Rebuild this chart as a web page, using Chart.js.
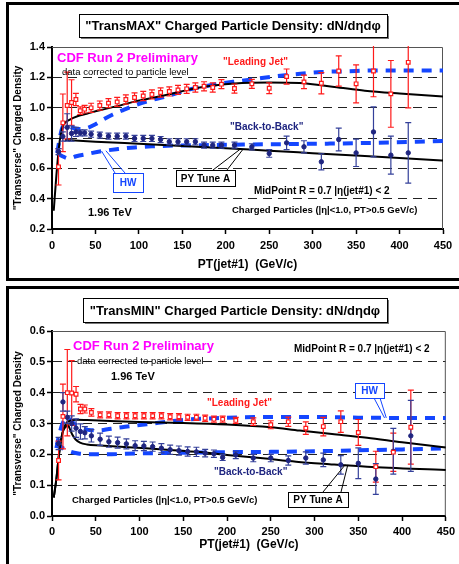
<!DOCTYPE html>
<html>
<head>
<meta charset="utf-8">
<script src="https://cdn.jsdelivr.net/npm/chart.js@4.4.0/dist/chart.umd.min.js"></script>
<style>
  body { margin: 0; background: #fff; width: 459px; height: 564px; overflow: hidden; position: relative; }
  canvas { position: absolute; left: 0; }
  #transMax { top: 0; }
  #transMin { top: 282px; }
  .frame { position: absolute; left: 6px; width: 470px; border: 3px solid #000; box-sizing: border-box; pointer-events: none; }
</style>
</head>
<body>
<canvas id="transMax" width="459" height="282"></canvas>
<canvas id="transMin" width="459" height="282"></canvas>
<div class="frame" style="top:2px;height:279px"></div>
<div class="frame" style="top:286px;height:300px"></div>
<script>
// PT(jet#1) bin centres (GeV/c), shared by both panels
const ptBins = [7.5, 12.5, 17.5, 22.5, 27.5, 32.5, 37.5, 45, 55, 65, 75, 85, 95, 105, 115, 125, 135, 145,
    155, 165, 175, 185, 195, 210, 230, 250, 270, 290, 310, 330, 350, 370, 390, 410];

// TransMAX - data
const maxLeadVals = [0.61, 0.90, 1.014, 1.034, 1.054, 0.98, 0.99, 0.999, 1.014, 1.03, 1.038, 1.054, 1.067, 1.077,
    1.087, 1.10, 1.107, 1.117, 1.124, 1.133, 1.141, 1.133, 1.155, 1.126, 1.157, 1.128, 1.205, 1.17, 1.161,
    1.242, 1.157, 1.242, 1.091, 1.299];
const maxLeadErrs = [0.12, 0.19, 0.22, 0.15, 0.04, 0.025, 0.025, 0.03, 0.03, 0.03, 0.03, 0.03, 0.03, 0.03, 0.03,
    0.03, 0.03, 0.03, 0.03, 0.03, 0.03, 0.03, 0.03, 0.03, 0.03, 0.035, 0.05, 0.045, 0.07, 0.1, 0.125, 0.17, 0.22, 0.3];
const maxBackVals = [0.71, 0.81, 0.87, 0.83, 0.84, 0.834, 0.834, 0.825, 0.819, 0.812, 0.812, 0.812, 0.797, 0.797,
    0.797, 0.79, 0.775, 0.775, 0.775, 0.775, 0.753, 0.753, 0.753, 0.753, 0.742, 0.698, 0.768, 0.742, 0.643,
    0.79, 0.702, 0.84, 0.687, 0.702];
const maxBackErrs = [0.02, 0.03, 0.09, 0.05, 0.03, 0.02, 0.02, 0.02, 0.02, 0.02, 0.02, 0.02, 0.02, 0.02, 0.02,
    0.02, 0.02, 0.02, 0.02, 0.02, 0.02, 0.02, 0.02, 0.02, 0.02, 0.025, 0.045, 0.04, 0.053, 0.075, 0.09, 0.165, 0.125, 0.2];

// TransMAX - PYTHIA Tune A and HERWIG curves
const maxPyLeadX = [2, 5, 8, 10, 12, 15, 20, 30, 40, 55, 75, 95, 130, 170, 210, 250, 285, 325, 360, 400, 450];
const maxPyLeadY = [0.32, 0.55, 0.74, 0.82, 0.87, 0.90, 0.92, 0.945, 0.96, 0.983, 1.01, 1.04, 1.082, 1.133, 1.159,
    1.166, 1.162, 1.137, 1.112, 1.093, 1.073];
const maxPyBackX = [15, 50, 100, 150, 200, 250, 300, 350, 400, 450];
const maxPyBackY = [0.786, 0.776, 0.762, 0.748, 0.733, 0.716, 0.70, 0.684, 0.668, 0.652];
const maxHwLeadX = [6, 9, 12, 16, 22, 30, 40, 50, 60, 70, 80, 95, 115, 135, 155, 175, 195, 215, 235, 255, 280,
    310, 340, 370, 410, 450];
const maxHwLeadY = [0.70, 0.80, 0.87, 0.885, 0.87, 0.86, 0.865, 0.89, 0.925, 0.955, 0.98, 1.015, 1.05, 1.08, 1.115,
    1.14, 1.16, 1.175, 1.19, 1.205, 1.22, 1.235, 1.24, 1.245, 1.245, 1.245];
const maxHwBackX = [6, 12, 19, 28, 40, 57, 76, 95, 115, 140, 175, 220, 270, 320, 370, 420, 450];
const maxHwBackY = [0.70, 0.68, 0.665, 0.68, 0.694, 0.713, 0.727, 0.738, 0.745, 0.75, 0.753, 0.757, 0.76, 0.763,
    0.768, 0.775, 0.78];

// TransMIN - data
const minLeadVals = [0.18, 0.323, 0.40, 0.399, 0.395, 0.347, 0.347, 0.336, 0.328, 0.328, 0.325, 0.325, 0.325, 0.325,
    0.325, 0.325, 0.322, 0.322, 0.32, 0.32, 0.317, 0.314, 0.314, 0.31, 0.306, 0.296, 0.306, 0.285, 0.29, 0.306,
    0.271, 0.16, 0.207, 0.288];
const minLeadErrs = [0.063, 0.105, 0.14, 0.105, 0.025, 0.015, 0.013, 0.012, 0.01, 0.01, 0.01, 0.01, 0.01, 0.01, 0.01,
    0.01, 0.01, 0.01, 0.01, 0.01, 0.01, 0.01, 0.01, 0.01, 0.012, 0.013, 0.015, 0.02, 0.03, 0.035, 0.042, 0.05, 0.062, 0.12];
const minBackVals = [0.235, 0.37, 0.32, 0.30, 0.285, 0.274, 0.27, 0.26, 0.249, 0.241, 0.238, 0.234, 0.228, 0.227,
    0.225, 0.22, 0.215, 0.212, 0.209, 0.208, 0.204, 0.202, 0.19, 0.198, 0.188, 0.188, 0.18, 0.188, 0.182, 0.166,
    0.171, 0.12, 0.21, 0.26];
const minBackErrs = [0.02, 0.03, 0.02, 0.025, 0.03, 0.025, 0.02, 0.02, 0.02, 0.018, 0.018, 0.016, 0.016, 0.015, 0.015,
    0.015, 0.015, 0.015, 0.015, 0.015, 0.012, 0.012, 0.01, 0.012, 0.012, 0.012, 0.015, 0.02, 0.022, 0.03, 0.05,
    0.05, 0.074, 0.115];

// TransMIN - PYTHIA Tune A and HERWIG curves
const minPyLeadX = [2, 5, 8, 12, 16, 20, 28, 40, 60, 100, 150, 200, 250, 283, 320, 360, 400, 450];
const minPyLeadY = [0.06, 0.12, 0.2, 0.27, 0.3, 0.308, 0.312, 0.311, 0.309, 0.305, 0.302, 0.297, 0.288, 0.277,
    0.266, 0.254, 0.239, 0.222];
const minPyBackX = [2, 5, 8, 12, 16, 18, 20, 23, 27, 32, 40, 55, 92, 127, 165, 203, 241, 279, 317, 360, 450];
const minPyBackY = [0.06, 0.12, 0.2, 0.27, 0.29, 0.296, 0.285, 0.265, 0.248, 0.238, 0.232, 0.229, 0.222, 0.216,
    0.208, 0.197, 0.187, 0.176, 0.168, 0.16, 0.149];
const minHwLeadX = [5, 8, 12, 18, 25, 35, 45, 55, 65, 80, 95, 115, 135, 155, 175, 200, 250, 300, 350, 400, 450];
const minHwLeadY = [0.22, 0.26, 0.30, 0.32, 0.30, 0.285, 0.278, 0.278, 0.282, 0.288, 0.293, 0.30, 0.307, 0.313,
    0.316, 0.319, 0.321, 0.321, 0.319, 0.318, 0.318];
const minHwBackX = [5, 10, 20, 30, 45, 60, 100, 150, 200, 250, 300, 350, 400, 450];
const minHwBackY = [0.24, 0.225, 0.21, 0.203, 0.2, 0.2, 0.203, 0.205, 0.207, 0.208, 0.21, 0.213, 0.216, 0.219];

const FONT = 'Arial, "Liberation Sans", Helvetica, sans-serif';
const RED = '#ff1a1a';
const NAVY = '#1f2580';
const NAVY_BAR = '#34409a';
const HW_BLUE = '#1446ff';
const MAGENTA = '#ff00ff';

Chart.defaults.font.family = FONT;

function toXY(xs, ys) {
    return xs.map((x, i) => ({ x: x, y: ys[i] }));
}

// error bars drawn after the curves, before the markers
const errorBarsPlugin = {
    id: 'errorBars',
    beforeDatasetDraw(chart, args, opts) {
        if (args.index !== 1) return;
        const { ctx, chartArea: a, scales: { x, y } } = chart;
        ctx.save();
        ctx.beginPath();
        ctx.rect(a.left, a.top - 1, a.width, a.height + 2);
        ctx.clip();
        opts.sets.forEach(set => {
            ctx.strokeStyle = set.color;
            ctx.lineWidth = 1.2;
            set.vals.forEach((v, i) => {
                const px = x.getPixelForValue(ptBins[i]);
                const top = y.getPixelForValue(v + set.errs[i]);
                const bot = y.getPixelForValue(v - set.errs[i]);
                ctx.beginPath();
                ctx.moveTo(px, top); ctx.lineTo(px, bot);
                ctx.moveTo(px - 3, top); ctx.lineTo(px + 3, top);
                ctx.moveTo(px - 3, bot); ctx.lineTo(px + 3, bot);
                ctx.stroke();
            });
        });
        ctx.restore();
    }
};

function drawBox(ctx, b, stroke, shadow) {
    const [x1, y1, x2, y2] = b;
    if (shadow) {
        ctx.fillStyle = '#777';
        ctx.fillRect(x1 + 2, y1 + 2, x2 - x1, y2 - y1);
    }
    ctx.fillStyle = '#fff';
    ctx.fillRect(x1, y1, x2 - x1, y2 - y1);
    ctx.strokeStyle = stroke;
    ctx.lineWidth = 1;
    ctx.strokeRect(x1 + 0.5, y1 + 0.5, x2 - x1, y2 - y1);
}

// frame, title box, labels and callouts
const notesPlugin = {
    id: 'notes',
    beforeDatasetsDraw(chart) {
        const { ctx, chartArea: a } = chart;
        ctx.save();
        ctx.strokeStyle = '#555';
        ctx.lineWidth = 1;
        ctx.beginPath();
        ctx.moveTo(a.left, a.top + 0.5);
        ctx.lineTo(a.right - 0.5, a.top + 0.5);
        ctx.lineTo(a.right - 0.5, a.bottom);
        ctx.stroke();
        ctx.restore();
    },
    afterDraw(chart, args, opts) {
        const { ctx, scales: { x, y } } = chart;
        ctx.save();
        ctx.textBaseline = 'middle';

        // callouts first, box on top of the leader lines
        opts.callouts.forEach(c => {
            ctx.strokeStyle = c.color;
            ctx.lineWidth = 1;
            c.from.forEach((f, i) => {
                ctx.beginPath();
                ctx.moveTo(f[0], f[1]);
                ctx.lineTo(x.getPixelForValue(c.to[i][0]), y.getPixelForValue(c.to[i][1]));
                ctx.stroke();
            });
            drawBox(ctx, c.box, c.color, false);
            ctx.fillStyle = c.color;
            ctx.font = 'bold 10px ' + FONT;
            ctx.textAlign = 'center';
            ctx.fillText(c.text, (c.box[0] + c.box[2]) / 2, (c.box[1] + c.box[3]) / 2 + 1);
        });

        drawBox(ctx, opts.title.box, '#000', true);
        ctx.fillStyle = '#000';
        ctx.font = 'bold 13px ' + FONT;
        ctx.textAlign = 'center';
        ctx.fillText(opts.title.text, (opts.title.box[0] + opts.title.box[2]) / 2, (opts.title.box[1] + opts.title.box[3]) / 2 + 1);

        opts.texts.forEach(t => {
            ctx.fillStyle = t.color || '#000';
            ctx.font = t.font + ' ' + FONT;
            ctx.textAlign = 'left';
            ctx.fillText(t.text, t.x, t.y);
        });
        ctx.restore();
    }
};

function makePanel(canvasId, p) {
    const ctx = document.getElementById(canvasId).getContext('2d');
    const tickFont = { family: FONT, size: 11, weight: 'bold' };
    return new Chart(ctx, {
        type: 'scatter',
        data: {
            datasets: [{
                label: 'Leading Jet',
                data: toXY(ptBins, p.leadVals),
                pointStyle: 'rect',
                pointRadius: 2.6,
                borderColor: RED,
                backgroundColor: '#fff',
                borderWidth: 1.2
            }, {
                label: 'Back-to-Back',
                data: toXY(ptBins, p.backVals),
                pointStyle: 'circle',
                pointRadius: 2.2,
                borderColor: NAVY,
                backgroundColor: NAVY,
                borderWidth: 1
            }, {
                label: 'PY Tune A (leading)',
                data: toXY(p.pyLeadX, p.pyLeadY),
                showLine: true, pointRadius: 0,
                borderColor: '#000', borderWidth: 2,
                cubicInterpolationMode: 'monotone'
            }, {
                label: 'PY Tune A (back)',
                data: toXY(p.pyBackX, p.pyBackY),
                showLine: true, pointRadius: 0,
                borderColor: '#000', borderWidth: 2,
                cubicInterpolationMode: 'monotone'
            }, {
                label: 'HW (leading)',
                data: toXY(p.hwLeadX, p.hwLeadY),
                showLine: true, pointRadius: 0,
                borderColor: HW_BLUE, borderWidth: 4, borderDash: [10, 8],
                cubicInterpolationMode: 'monotone'
            }, {
                label: 'HW (back)',
                data: toXY(p.hwBackX, p.hwBackY),
                showLine: true, pointRadius: 0,
                borderColor: HW_BLUE, borderWidth: 4, borderDash: [10, 8],
                cubicInterpolationMode: 'monotone'
            }]
        },
        options: {
            responsive: false,
            animation: false,
            devicePixelRatio: 1,
            layout: { padding: { left: 0, top: p.padTop, right: p.padRight, bottom: 0 } },
            plugins: {
                legend: { display: false },
                tooltip: { enabled: false },
                errorBars: {
                    sets: [
                        { vals: p.leadVals, errs: p.leadErrs, color: RED },
                        { vals: p.backVals, errs: p.backErrs, color: NAVY_BAR }
                    ]
                },
                notes: p.notes
            },
            scales: {
                x: {
                    type: 'linear', min: 0, max: 450,
                    ticks: { stepSize: 50, maxRotation: 0, autoSkip: false, color: '#000', font: tickFont, padding: p.xTickPad },
                    grid: { drawOnChartArea: false, tickLength: 5, tickColor: '#000', tickWidth: 1.5 },
                    border: { color: '#000', width: 2 },
                    title: {
                        display: true, text: 'PT(jet#1)  (GeV/c)', color: '#000',
                        font: { family: FONT, size: 12, weight: 'bold' },
                        padding: { top: 0, bottom: p.xTitlePad }
                    },
                    afterFit: s => { s.height = p.xHeight; }
                },
                y: {
                    min: p.yMin, max: p.yMax,
                    ticks: {
                        stepSize: p.yStep, color: '#000', font: tickFont, padding: 2,
                        callback: v => v.toFixed(1)
                    },
                    grid: {
                        color: c => (c.tick && c.tick.value > p.yMin + 1e-6 && c.tick.value < p.yMax - 1e-6) ? '#222' : 'rgba(0,0,0,0)',
                        lineWidth: 1, tickLength: 5, tickColor: '#000', tickWidth: 1.5
                    },
                    border: { color: '#000', width: 2, dash: [9, 6] },
                    title: {
                        display: true, text: '"Transverse" Charged Density', color: '#000',
                        font: { family: FONT, size: 10, weight: 'bold' },
                        padding: { top: 12, bottom: 0 }
                    },
                    afterFit: s => { s.width = 52; }
                }
            }
        },
        plugins: [errorBarsPlugin, notesPlugin]
    });
}

window.maxChart = makePanel('transMax', {
    leadVals: maxLeadVals, leadErrs: maxLeadErrs, backVals: maxBackVals, backErrs: maxBackErrs,
    pyLeadX: maxPyLeadX, pyLeadY: maxPyLeadY, pyBackX: maxPyBackX, pyBackY: maxPyBackY,
    hwLeadX: maxHwLeadX, hwLeadY: maxHwLeadY, hwBackX: maxHwBackX, hwBackY: maxHwBackY,
    yMin: 0.2, yMax: 1.4, yStep: 0.2,
    padTop: 47, padRight: 16, xHeight: 53, xTickPad: 5, xTitlePad: 10,
    notes: {
        title: { text: '"TransMAX" Charged Particle Density: dN/dηdφ', box: [79, 14, 387, 37] },
        texts: [
            { text: 'CDF Run 2 Preliminary', x: 57, y: 58, font: 'bold 13px', color: MAGENTA },
            { text: 'data corrected to particle level', x: 62, y: 72, font: '9.5px' },
            { text: '"Leading Jet"', x: 223, y: 62, font: 'bold 10px', color: RED },
            { text: '"Back-to-Back"', x: 230, y: 127, font: 'bold 10px', color: NAVY },
            { text: 'MidPoint R = 0.7 |η(jet#1) < 2', x: 254, y: 191, font: 'bold 10px' },
            { text: 'Charged Particles (|η|<1.0, PT>0.5 GeV/c)', x: 232, y: 210, font: 'bold 9.5px' },
            { text: '1.96 TeV', x: 88, y: 213, font: 'bold 11px' }
        ],
        callouts: [
            { text: 'HW', color: HW_BLUE, box: [113, 173, 143, 192], from: [[115, 173], [125, 173]], to: [[57, 0.714], [62, 0.716]] },
            { text: 'PY Tune A', color: '#000', box: [176, 170, 235, 186], from: [[213, 170], [227, 170]], to: [[217, 0.728], [220, 0.727]] }
        ]
    }
});

window.minChart = makePanel('transMin', {
    leadVals: minLeadVals, leadErrs: minLeadErrs, backVals: minBackVals, backErrs: minBackErrs,
    pyLeadX: minPyLeadX, pyLeadY: minPyLeadY, pyBackX: minPyBackX, pyBackY: minPyBackY,
    hwLeadX: minHwLeadX, hwLeadY: minHwLeadY, hwBackX: minHwBackX, hwBackY: minHwBackY,
    yMin: 0, yMax: 0.6, yStep: 0.1,
    padTop: 49, padRight: 13, xHeight: 48, xTickPad: 4, xTitlePad: 12,
    notes: {
        title: { text: '"TransMIN" Charged Particle Density: dN/dηdφ', box: [83, 16, 387, 40] },
        texts: [
            { text: 'CDF Run 2 Preliminary', x: 73, y: 64, font: 'bold 13px', color: MAGENTA },
            { text: 'data corrected to particle level', x: 77, y: 79, font: '9.5px' },
            { text: '1.96 TeV', x: 111, y: 95, font: 'bold 11px' },
            { text: 'MidPoint R = 0.7 |η(jet#1) < 2', x: 294, y: 67, font: 'bold 10px' },
            { text: '"Leading Jet"', x: 207, y: 121, font: 'bold 10px', color: RED },
            { text: '"Back-to-Back"', x: 214, y: 190, font: 'bold 10px', color: NAVY },
            { text: 'Charged Particles (|η|<1.0, PT>0.5 GeV/c)', x: 72, y: 218, font: 'bold 9.5px' }
        ],
        callouts: [
            { text: 'HW', color: HW_BLUE, box: [355, 101, 384, 116], from: [[374, 116], [380, 116]], to: [[380, 0.318], [382, 0.318]] },
            { text: 'PY Tune A', color: '#000', box: [288, 210, 348, 225], from: [[323, 210], [341, 210]], to: [[335, 0.166], [338, 0.166]] }
        ]
    }
});
</script>
</body>
</html>
